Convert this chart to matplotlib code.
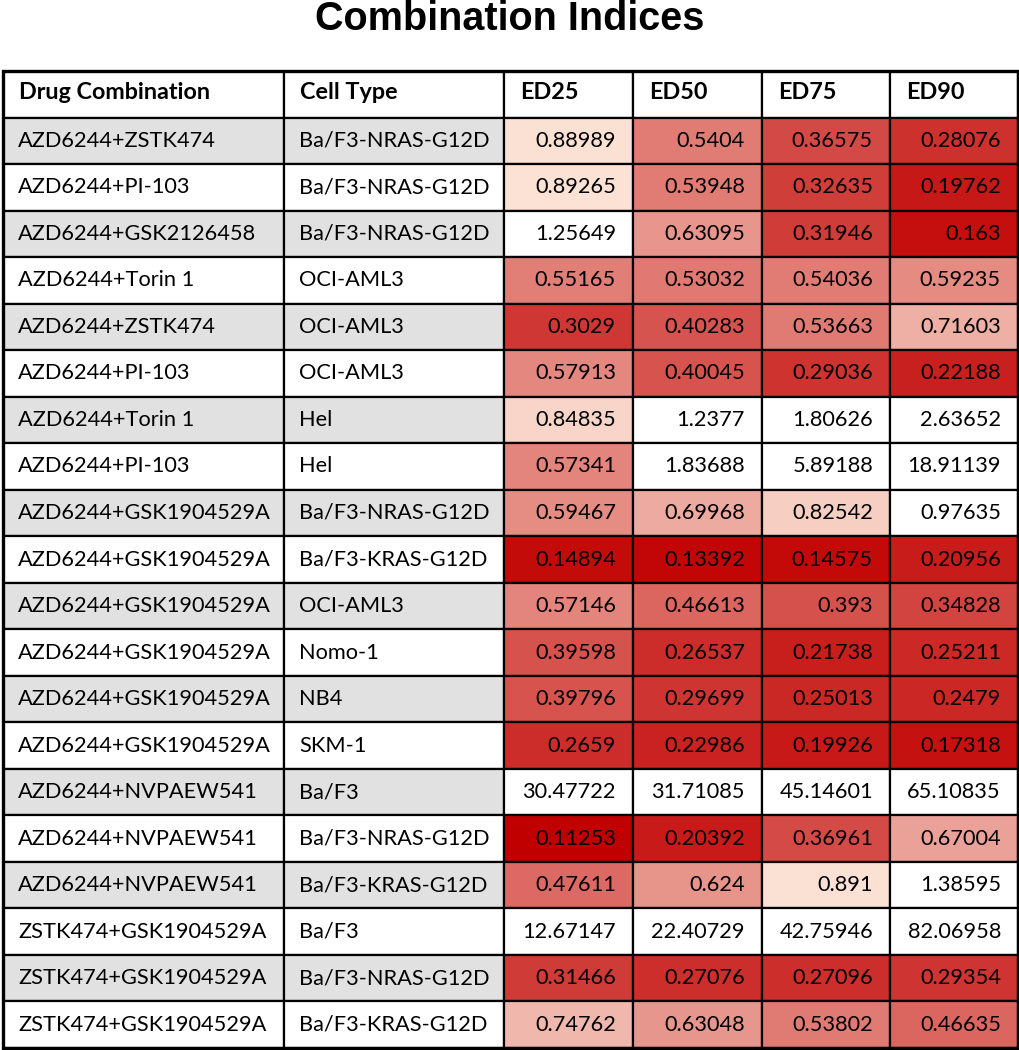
import numpy as np
import matplotlib
matplotlib.use("Agg")
import matplotlib.pyplot as plt
from matplotlib.patches import Rectangle

title = "Combination Indices"
headers = ["Drug Combination", "Cell Type", "ED25", "ED50", "ED75", "ED90"]

drugs = ["AZD6244+ZSTK474", "AZD6244+PI-103", "AZD6244+GSK2126458", "AZD6244+Torin 1",
         "AZD6244+ZSTK474", "AZD6244+PI-103", "AZD6244+Torin 1", "AZD6244+PI-103",
         "AZD6244+GSK1904529A", "AZD6244+GSK1904529A", "AZD6244+GSK1904529A",
         "AZD6244+GSK1904529A", "AZD6244+GSK1904529A", "AZD6244+GSK1904529A",
         "AZD6244+NVPAEW541", "AZD6244+NVPAEW541", "AZD6244+NVPAEW541",
         "ZSTK474+GSK1904529A", "ZSTK474+GSK1904529A", "ZSTK474+GSK1904529A"]
cells = ["Ba/F3-NRAS-G12D", "Ba/F3-NRAS-G12D", "Ba/F3-NRAS-G12D", "OCI-AML3",
         "OCI-AML3", "OCI-AML3", "Hel", "Hel", "Ba/F3-NRAS-G12D", "Ba/F3-KRAS-G12D",
         "OCI-AML3", "Nomo-1", "NB4", "SKM-1", "Ba/F3", "Ba/F3-NRAS-G12D",
         "Ba/F3-KRAS-G12D", "Ba/F3", "Ba/F3-NRAS-G12D", "Ba/F3-KRAS-G12D"]
ed25 = [0.88989, 0.89265, 1.25649, 0.55165, 0.3029, 0.57913, 0.84835, 0.57341, 0.59467,
        0.14894, 0.57146, 0.39598, 0.39796, 0.2659, 30.47722, 0.11253, 0.47611,
        12.67147, 0.31466, 0.74762]
ed50 = [0.5404, 0.53948, 0.63095, 0.53032, 0.40283, 0.40045, 1.2377, 1.83688, 0.69968,
        0.13392, 0.46613, 0.26537, 0.29699, 0.22986, 31.71085, 0.20392, 0.624,
        22.40729, 0.27076, 0.63048]
ed75 = [0.36575, 0.32635, 0.31946, 0.54036, 0.53663, 0.29036, 1.80626, 5.89188, 0.82542,
        0.14575, 0.393, 0.21738, 0.25013, 0.19926, 45.14601, 0.36961, 0.891,
        42.75946, 0.27096, 0.53802]
ed90 = [0.28076, 0.19762, 0.163, 0.59235, 0.71603, 0.22188, 2.63652, 18.91139, 0.97635,
        0.20956, 0.34828, 0.25211, 0.2479, 0.17318, 65.10835, 0.67004, 1.38595,
        82.06958, 0.29354, 0.46635]

values = np.array([ed25, ed50, ed75, ed90]).T
vmin = values.min()

dark = np.array([192, 0, 0]) / 255.0
light = np.array([252, 228, 214]) / 255.0


def cell_color(v):
    if v >= 0.95:
        return "white"
    t = np.clip((v - vmin) / (0.9 - vmin), 0, 1)
    return tuple(dark + (light - dark) * t)


def fmt(v):
    s = f"{v:.5f}".rstrip("0")
    return s.rstrip(".")


col_w = [281, 220, 129, 129, 128, 128]
col_edges = np.concatenate([[0], np.cumsum(col_w)])
nrows = len(drugs) + 1

fig = plt.figure(figsize=(10.2, 10.5), dpi=100)
W, H = 1020, 1050
left, right, top, bottom = 3, 1018, 71, 1048
ax = fig.add_axes([left / W, 1 - bottom / H, (right - left) / W, (bottom - top) / H])
ax.set_xlim(0, col_edges[-1])
ax.set_ylim(nrows, 0)
ax.axis("off")

fig.text(0.5, 1 - 30 / H, title, ha="center", va="baseline",
         fontsize=28.5, fontweight="bold", family="Liberation Sans")

body_font = dict(family="Lato", fontsize=15.7)
gray = "#e1e1e1"

# header
for j, h in enumerate(headers):
    ax.add_patch(Rectangle((col_edges[j], 0), col_w[j], 1, facecolor="white",
                           edgecolor="black", linewidth=1.6))
    ax.text(col_edges[j] + 16, 0.47, h, ha="left", va="center",
            fontweight="bold", family="Lato", fontsize=16.8)

for i in range(len(drugs)):
    r = i + 1
    bg = gray if i % 2 == 0 else "white"
    for j, txt in enumerate([drugs[i], cells[i]]):
        ax.add_patch(Rectangle((col_edges[j], r), col_w[j], 1, facecolor=bg,
                               edgecolor="black", linewidth=1.6))
        ax.text(col_edges[j] + 15, r + 0.5, txt, ha="left", va="center", **body_font)
    for k in range(4):
        j = k + 2
        v = values[i, k]
        ax.add_patch(Rectangle((col_edges[j], r), col_w[j], 1, facecolor=cell_color(v),
                               edgecolor="black", linewidth=1.6))
        ax.text(col_edges[j + 1] - 17, r + 0.5, fmt(v), ha="right", va="center",
                **body_font)

ax.add_patch(Rectangle((0, 0), col_edges[-1], nrows, facecolor="none",
                       edgecolor="black", linewidth=2.4, clip_on=False))

fig.savefig("out.png", dpi=100, facecolor="white")
